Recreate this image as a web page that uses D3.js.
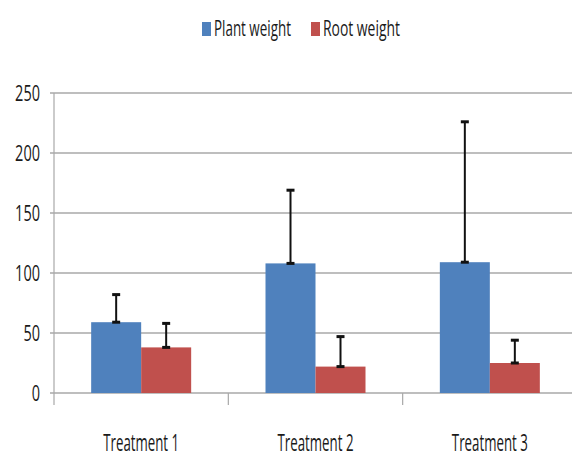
<!DOCTYPE html>
<html><head><meta charset="utf-8">
<script src="https://cdn.jsdelivr.net/npm/d3@7/dist/d3.min.js"></script>
<style>html,body{margin:0;padding:0;background:#fff;}svg{display:block;}</style>
</head><body>
<svg id="chart" width="572" height="458"></svg>
<script>
const categories = ["Treatment 1", "Treatment 2", "Treatment 3"];
const seriesNames = ["Plant weight", "Root weight"];
const plantWeight = [59, 108, 109];
const rootWeight = [38, 22, 25];
const plantError = [23, 61, 117];
const rootError = [20, 25, 19];
const yTicks = [0, 50, 100, 150, 200, 250];
const colors = ["#4F81BD", "#C0504D"];

(function () {
const svg = d3.select("#chart");
const pLeft = 54, pRight = 577, pTop = 93, pBottom = 393;
const font = "'Open Sans', 'Noto Sans', sans-serif";

const x = d3.scaleBand().domain(categories).range([pLeft, pRight]).paddingInner(0).paddingOuter(0);
const inner = d3.scaleBand().domain(seriesNames).range([0, 100]);
const y = d3.scaleLinear().domain([0, 250]).range([pBottom, pTop]);

// condensed text helper: horizontal squeeze via transform
function narrowText(g, str, tx, ty, size, targetW, anchor) {
  const t = g.append("text")
    .attr("font-family", font).attr("font-size", size).attr("fill", "#1a1a1a")
    .attr("text-anchor", anchor).text(str);
  const w = t.node().getComputedTextLength() || targetW;
  const sx = targetW / w;
  t.attr("transform", `translate(${tx},${ty}) scale(${sx},1)`);
  return t;
}

// gridlines
svg.append("g").selectAll("line").data(yTicks).join("line")
  .attr("x1", pLeft - 4).attr("x2", 572)
  .attr("y1", d => y(d)).attr("y2", d => y(d))
  .attr("stroke", "#a8a8a8").attr("stroke-width", 1.6);

// y axis line
svg.append("line").attr("x1", pLeft).attr("x2", pLeft).attr("y1", pTop).attr("y2", pBottom + 12)
  .attr("stroke", "#a8a8a8").attr("stroke-width", 1.2);

// category tick marks
svg.append("g").selectAll("line").data(categories.slice(1)).join("line")
  .attr("x1", d => x(d)).attr("x2", d => x(d))
  .attr("y1", pBottom).attr("y2", pBottom + 12)
  .attr("stroke", "#a8a8a8").attr("stroke-width", 1.2);

// y labels
const yl = svg.append("g");
yTicks.forEach(d => narrowText(yl, String(d), 40, y(d) + 8, 22, String(d).length * 8.3, "end"));

// bars
const data = [];
categories.forEach((c, i) => {
  data.push({cat: c, s: seriesNames[0], v: plantWeight[i], e: plantError[i], color: colors[0]});
  data.push({cat: c, s: seriesNames[1], v: rootWeight[i], e: rootError[i], color: colors[1]});
});
const gx = d => x(d.cat) + (x.bandwidth() - 100) / 2 + inner(d.s);

svg.append("g").selectAll("rect").data(data).join("rect")
  .attr("x", d => gx(d)).attr("width", inner.bandwidth())
  .attr("y", d => y(d.v)).attr("height", d => y(0) - y(d.v))
  .attr("fill", d => d.color);

// error bars
const eg = svg.append("g").attr("stroke", "#111").attr("stroke-width", 2);
data.forEach(d => {
  const cx = gx(d) + inner.bandwidth() / 2;
  eg.append("line").attr("x1", cx).attr("x2", cx).attr("y1", y(d.v)).attr("y2", y(d.v + d.e));
  eg.append("line").attr("x1", cx - 4).attr("x2", cx + 4).attr("y1", y(d.v + d.e)).attr("y2", y(d.v + d.e)).attr("stroke-width", 3);
  eg.append("line").attr("x1", cx - 4).attr("x2", cx + 4).attr("y1", y(d.v)).attr("y2", y(d.v)).attr("stroke-width", 3);
});

// category labels
const cl = svg.append("g");
categories.forEach(c => narrowText(cl, c, x(c) + x.bandwidth() / 2, 451, 23, 76, "middle"));

// legend
const legX = [202, 311];
const lg = svg.append("g");
seriesNames.forEach((s, i) => {
  lg.append("rect").attr("x", legX[i]).attr("y", 22).attr("width", 9).attr("height", 14).attr("fill", colors[i]);
  narrowText(lg, s, legX[i] + 12, 36, 22, 77, "start");
});
})();
</script>
</body></html>
